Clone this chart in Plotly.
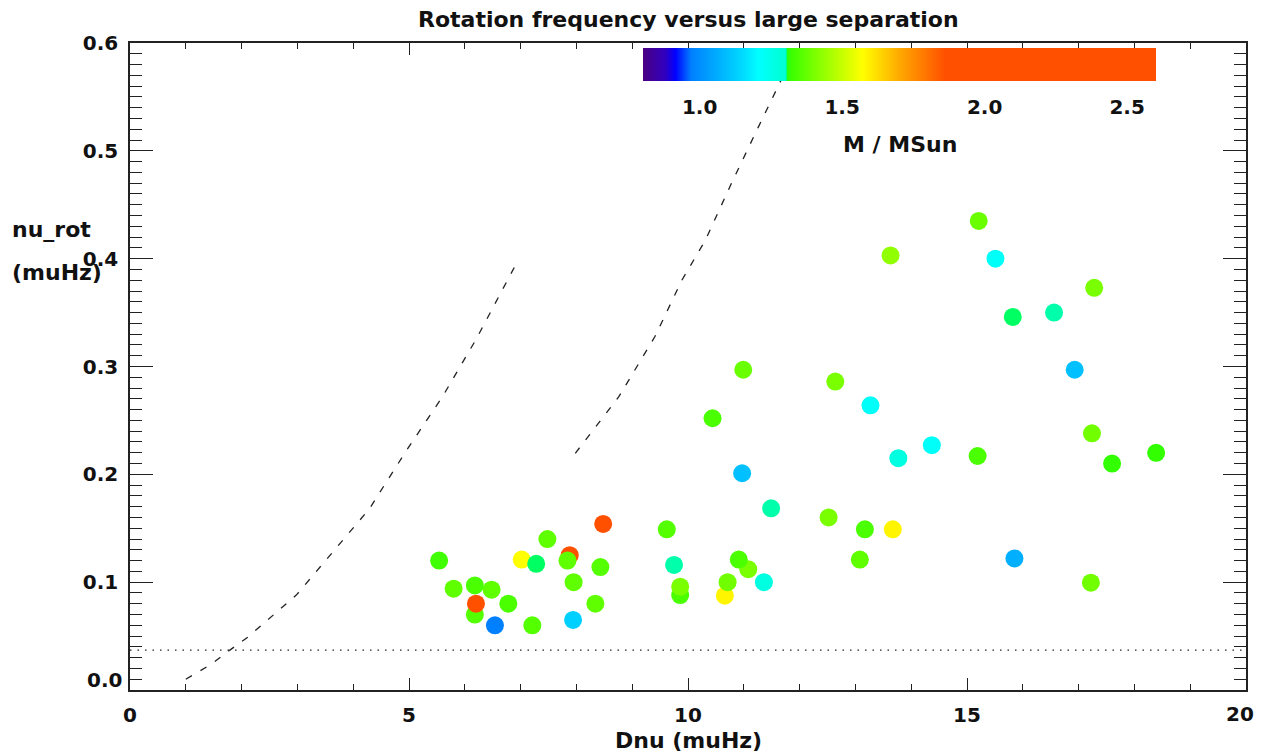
import plotly.graph_objects as go

# ---- data ----
dnu = [5.54, 5.80, 6.18, 6.48, 6.18, 6.20, 6.54, 6.78, 7.02, 7.28,
       7.48, 7.21, 7.88, 7.84, 7.95, 7.94, 8.43, 8.34, 8.48,
       10.99, 12.64, 13.27, 10.44, 14.37, 13.77, 10.97, 11.49, 12.52, 13.17,
       13.67, 9.62, 9.75, 11.08, 10.91, 11.36, 10.66, 10.71, 9.86, 9.86,
       13.08, 15.21, 13.63, 15.51, 17.28, 15.82, 16.56, 16.93, 15.19, 17.24,
       17.60, 18.39, 15.85, 17.22]
nurot = [0.120, 0.094, 0.097, 0.093, 0.070, 0.080, 0.060, 0.080, 0.121, 0.117,
         0.140, 0.060, 0.125, 0.120, 0.100, 0.065, 0.114, 0.080, 0.154,
         0.297, 0.286, 0.264, 0.252, 0.227, 0.215, 0.201, 0.1685, 0.160, 0.149,
         0.149, 0.149, 0.116, 0.112, 0.121, 0.100, 0.0875, 0.100, 0.088, 0.0958,
         0.121, 0.435, 0.403, 0.400, 0.373, 0.346, 0.350, 0.297, 0.217, 0.238,
         0.210, 0.220, 0.122, 0.0995]
mass = [1.327, 1.367, 1.34, 1.367, 1.353, 2.2, 0.97, 1.34, 1.57, 1.305,
        1.367, 1.353, 2.0, 1.367, 1.367, 1.129, 1.353, 1.367, 2.4,
        1.38, 1.40, 1.22, 1.34, 1.22, 1.268, 1.097, 1.302, 1.40, 1.34,
        1.585, 1.353, 1.302, 1.40, 1.34, 1.268, 1.585, 1.39, 1.34, 1.40,
        1.367, 1.38, 1.43, 1.22, 1.40, 1.305, 1.302, 1.097, 1.34, 1.39,
        1.309, 1.309, 1.066, 1.39]

curve1_dnu = [1.0, 1.46, 1.79, 2.11, 2.98, 3.51, 4.29, 4.94, 5.6, 6.2, 6.97]
curve1_nurot = [0.010, 0.024, 0.037, 0.049, 0.088, 0.120, 0.168, 0.221, 0.272, 0.325, 0.400]
curve2_dnu = [7.98, 8.76, 9.41, 9.89, 10.31, 10.78, 11.26, 11.65, 11.85]
curve2_nurot = [0.2195, 0.272, 0.328, 0.380, 0.417, 0.470, 0.522, 0.564, 0.585]
dotted_dnu = [0.0, 20.0]
dotted_nurot = [0.037, 0.037]

mass_ticks = [1.0, 1.5, 2.0, 2.5]
title_text = "Rotation frequency versus large separation"
xlabel = "Dnu (muHz)"
ylabel_lines = ["nu_rot", "(muHz)"]
cbar_title = "M / MSun"

cmin, cmax = 0.8, 2.6
colorscale = [
    [0.0, "#4b0082"],
    [0.044, "#3000c0"],
    [0.063, "#0000ff"],
    [0.094, "#0080ff"],
    [0.148, "#00b0ff"],
    [0.200, "#00e0ff"],
    [0.225, "#00ffff"],
    [0.278, "#00ffd0"],
    [0.2806, "#00ff60"],
    [0.2817, "#30ff00"],
    [0.428, "#ffff00"],
    [0.508, "#ffa000"],
    [0.589, "#ff5000"],
    [1.0, "#ff5000"],
]

FONT = "DejaVu Sans"
TXT = "#111111"
TICKFONT = dict(family=FONT, size=20, color=TXT, weight="bold")
LABFONT = dict(family=FONT, size=22, color=TXT, weight="bold")

# the page has an 8px body margin: the figure sits at (8, 8) and its width is
# limited to the window width minus both margins
OFF = 8
W, H = 1267 - 2 * OFF, 756 - OFF
L, T = 130 - OFF, 43 - OFF
R = W - L - (1249 - 130)
B = H - T - (690 - 43)
pw, ph = W - L - R, H - T - B


def px2paper(px, py):
    return (px - OFF - L) / pw, (H - B - (py - OFF)) / ph


fig = go.Figure()
fig.add_trace(go.Scatter(x=dotted_dnu, y=dotted_nurot, mode="lines",
                         line=dict(color="#222", width=1.4, dash="1.5px,6px"),
                         hoverinfo="skip", showlegend=False))
fig.add_trace(go.Scatter(x=curve1_dnu, y=curve1_nurot, mode="lines",
                         line=dict(color="#222", width=1.3, dash="7px,10px"),
                         hoverinfo="skip", showlegend=False))
fig.add_trace(go.Scatter(x=curve2_dnu, y=curve2_nurot, mode="lines",
                         line=dict(color="#222", width=1.3, dash="7px,10px"),
                         hoverinfo="skip", showlegend=False))

cb_x0, cb_y0 = px2paper(644, 47.6)
cb_x1, _ = px2paper(1158.6, 47.6)
fig.add_trace(go.Scatter(
    x=dnu, y=nurot, mode="markers", showlegend=False,
    marker=dict(size=18, color=mass, colorscale=colorscale, cmin=cmin, cmax=cmax,
                line=dict(width=0), opacity=1,
                showscale=True,
                colorbar=dict(orientation="h", x=cb_x0, xanchor="left",
                              y=cb_y0, yanchor="top", len=cb_x1 - cb_x0, lenmode="fraction",
                              thickness=33, xpad=0, ypad=0, outlinewidth=0,
                              tickvals=mass_ticks, ticktext=["%.1f" % v for v in mass_ticks],
                              ticks="outside", ticklen=9, tickcolor="rgba(0,0,0,0)",
                              tickfont=TICKFONT))))

axis_common = dict(showgrid=False, zeroline=False, showline=True, linecolor="#222",
                   linewidth=1.5, mirror="ticks", ticks="inside", tickcolor="#222",
                   tickwidth=1.3, tickfont=TICKFONT)
fig.update_xaxes(range=[0, 20], tick0=0, dtick=5, ticklen=12,
                 labelalias={"20": " "},
                 minor=dict(ticks="inside", dtick=1, ticklen=6, tickcolor="#222", tickwidth=1.3),
                 ticklabelstandoff=6, **axis_common)
fig.update_yaxes(range=[0, 0.6], tick0=0, dtick=0.1, ticklen=23, tickformat=".1f",
                 labelalias={"0.0": " "},
                 minor=dict(ticks="inside", dtick=0.01, ticklen=12, tickcolor="#222", tickwidth=1.3),
                 ticklabelstandoff=6, **axis_common)


def ann(text, px, py, font, xanchor="center"):
    x, y = px2paper(px, py)
    return dict(text=text, x=x, y=y, xref="paper", yref="paper", xanchor=xanchor,
                yanchor="middle", showarrow=False, font=font)


annotations = [
    ann(title_text, 689.5, 20, LABFONT),
    ann(xlabel, 689.5, 740, LABFONT),
    ann(ylabel_lines[0], 10, 229, LABFONT, "left"),
    ann(ylabel_lines[1], 10, 272, LABFONT, "left"),
    ann(cbar_title, 902, 144, LABFONT),
    ann("20", 1259, 714, TICKFONT, "right"),
    dict(text="0.0", x=0, y=0.0095, xref="paper", yref="y", xanchor="right",
         yanchor="middle", xshift=-6, showarrow=False, font=TICKFONT),
]

fig.update_layout(width=W, height=H, margin=dict(l=L, r=R, t=T, b=B),
                  plot_bgcolor="white", paper_bgcolor="white",
                  annotations=annotations, font=dict(family=FONT, color=TXT))
fig.write_html("out.html")
